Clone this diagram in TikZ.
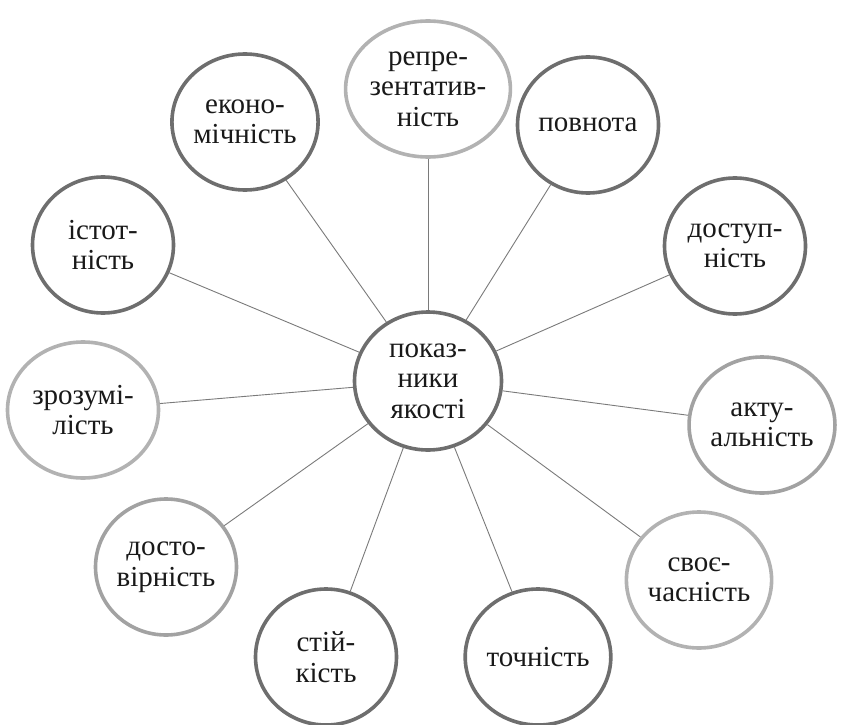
\documentclass[tikz,border=0pt]{standalone}
\usepackage{fontspec}
\setmainfont{Liberation Serif}
\newfontfamily\qfont{Liberation Serif}
\usetikzlibrary{shapes.geometric}
\definecolor{darkring}{HTML}{6E6E6E}
\definecolor{lightring}{HTML}{B2B2B2}
\definecolor{midring}{HTML}{A2A2A2}
\definecolor{connline}{HTML}{7A7A7A}
\tikzset{
  qnode/.style={ellipse, draw, line width=3.6pt, fill=white, inner sep=0pt,
    minimum width=141pt, minimum height=136pt, align=center,
    font=\qfont\fontsize{29}{30.5}\selectfont, text=black!90},
  darkq/.style={qnode, draw=darkring},
  lightq/.style={qnode, draw=lightring},
  midq/.style={qnode, draw=midring},
  conn/.style={draw=connline, line width=0.9pt}
}
\begin{document}
\begin{tikzpicture}[x=1pt,y=-1pt]
\useasboundingbox (0,0) rectangle (843,725);
\node[darkq, minimum width=147pt, minimum height=138pt] (c) at (428,381) {показ-\\ники\\якості};
\node[lightq, minimum width=151pt] (repr) at (428,89) {репре-\\зентатив-\\ність};
\node[darkq] (povn) at (588,125) {повнота};
\node[darkq] (dost) at (735,246) {доступ-\\ність};
\node[midq] (aktu) at (762,425) {акту-\\альність};
\node[lightq] (svoie) at (699,580) {своє-\\часність};
\node[darkq] (tochn) at (538,657) {точність};
\node[darkq] (stiy) at (326,657) {стій-\\кість};
\node[midq] (dosto) at (166,567) {досто-\\вірність};
\node[lightq, minimum width=151pt] (zroz) at (83,410) {зрозумі-\\лість};
\node[darkq] (istot) at (103,245) {істот-\\ність};
\node[darkq] (ekon) at (245,122) {еконо-\\мічність};
\foreach \n in {repr,povn,dost,aktu,svoie,tochn,stiy,dosto,zroz,istot,ekon}
  \draw[conn] (c) -- (\n);
\end{tikzpicture}
\end{document}
